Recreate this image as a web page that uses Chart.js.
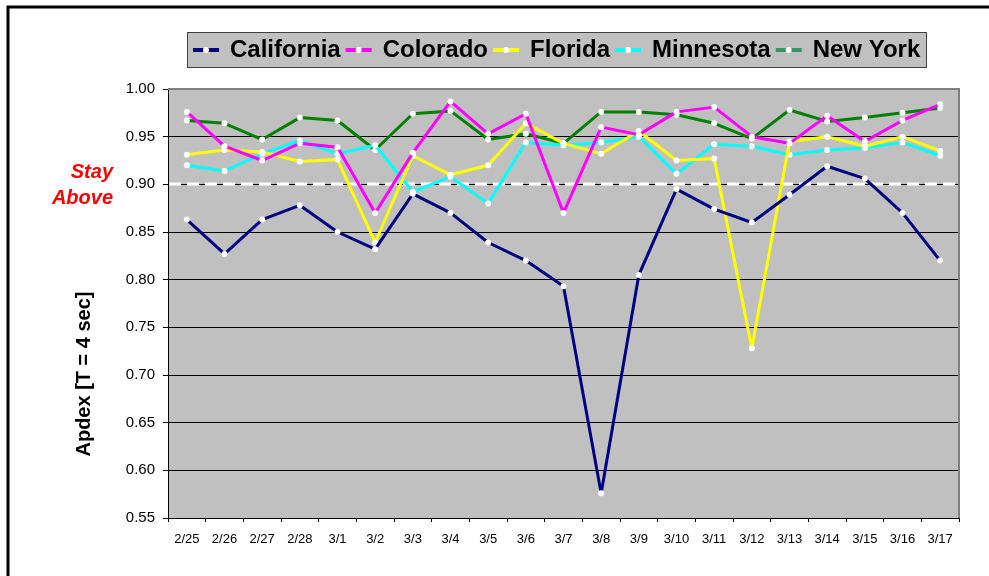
<!DOCTYPE html>
<html>
<head>
<meta charset="utf-8">
<script src="https://cdn.jsdelivr.net/npm/chart.js@4/dist/chart.umd.min.js"></script>
<style>
  html, body { margin: 0; padding: 0; background: #fff; }
  canvas { display: block; }
</style>
</head>
<body>
<canvas id="apdexChart" width="989" height="576"></canvas>
<script>
// Daily Apdex per state
const dates = ['2/25', '2/26', '2/27', '2/28', '3/1', '3/2', '3/3', '3/4', '3/5', '3/6', '3/7',
    '3/8', '3/9', '3/10', '3/11', '3/12', '3/13', '3/14', '3/15', '3/16', '3/17'];
const california = [0.863, 0.827, 0.863, 0.878, 0.850, 0.832, 0.890, 0.870, 0.839, 0.820, 0.793,
    0.576, 0.805, 0.895, 0.874, 0.860, 0.889, 0.919, 0.906, 0.870, 0.820];
const colorado = [0.976, 0.940, 0.925, 0.943, 0.939, 0.870, 0.933, 0.987, 0.953, 0.974, 0.870,
    0.960, 0.952, 0.976, 0.981, 0.950, 0.943, 0.972, 0.945, 0.967, 0.984];
const florida = [0.931, 0.936, 0.934, 0.924, 0.926, 0.839, 0.930, 0.910, 0.920, 0.964, 0.943,
    0.932, 0.956, 0.925, 0.927, 0.728, 0.945, 0.950, 0.940, 0.950, 0.935];
const minnesota = [0.920, 0.914, 0.932, 0.946, 0.932, 0.941, 0.892, 0.908, 0.880, 0.944, 0.941,
    0.944, 0.950, 0.911, 0.942, 0.940, 0.931, 0.936, 0.938, 0.944, 0.930];
const newYork = [0.967, 0.964, 0.947, 0.970, 0.967, 0.936, 0.974, 0.977, 0.947, 0.953, 0.943,
    0.976, 0.976, 0.973, 0.964, 0.948, 0.978, 0.966, 0.970, 0.975, 0.980];
const stateNames = ['California', 'Colorado', 'Florida', 'Minnesota', 'New York'];
const lineColors = ['#000080', '#ff00ff', '#ffff00', '#00ffff', '#008000'];
const legendColors = ['#000080', '#ff00ff', '#ffff00', '#00ffff', '#339966'];
const yTicks = [0.55, 0.60, 0.65, 0.70, 0.75, 0.80, 0.85, 0.90, 0.95, 1.00];
const stayAbove = 0.90;

const FONT = "'Liberation Sans', Arial, sans-serif";

// plot background, frame, target line and the text around the chart
const decorations = {
    id: 'decorations',
    beforeDraw(chart) {
        const { ctx, chartArea: a } = chart;
        ctx.save();
        ctx.fillStyle = '#c0c0c0';
        ctx.fillRect(a.left, a.top, a.right - a.left, a.bottom - a.top);
        ctx.restore();
    },
    beforeDatasetsDraw(chart) {
        const { ctx, chartArea: a, scales } = chart;
        ctx.save();
        // gray frame on top and right
        ctx.strokeStyle = '#808080';
        ctx.lineWidth = 2;
        ctx.beginPath();
        ctx.moveTo(a.left, a.top);
        ctx.lineTo(a.right, a.top);
        ctx.lineTo(a.right, a.bottom);
        ctx.stroke();
        // dashed "stay above" line
        const y = Math.round(scales.y.getPixelForValue(stayAbove));
        ctx.strokeStyle = '#ffffff';
        ctx.lineWidth = 3;
        ctx.setLineDash([12, 6]);
        ctx.beginPath();
        ctx.moveTo(a.left + 1, y);
        ctx.lineTo(a.right, y);
        ctx.stroke();
        ctx.restore();
    },
    afterDraw(chart) {
        const { ctx, scales } = chart;
        ctx.save();
        // outer frame (left and top only are visible)
        ctx.strokeStyle = '#000';
        ctx.lineWidth = 3;
        ctx.strokeRect(8, 7, 1100, 700);

        // "Stay Above" label next to the threshold
        const ty = scales.y.getPixelForValue(stayAbove);
        ctx.fillStyle = '#ff0000';
        ctx.font = 'italic bold 20px ' + FONT;
        ctx.textAlign = 'right';
        ctx.textBaseline = 'middle';
        ctx.fillText('Stay', 113, ty - 12);
        ctx.fillText('Above', 113, ty + 14);

        // y axis title
        ctx.fillStyle = '#000';
        ctx.font = 'bold 20px ' + FONT;
        ctx.translate(84, 374);
        ctx.rotate(-Math.PI / 2);
        ctx.textAlign = 'center';
        ctx.fillText('Apdex [T = 4 sec]', 0, 0);
        ctx.restore();

        // legend box
        ctx.save();
        ctx.fillStyle = '#c0c0c0';
        ctx.fillRect(187, 32, 739, 35);
        ctx.strokeStyle = '#404040';
        ctx.lineWidth = 1;
        ctx.strokeRect(187.5, 32.5, 739, 35);
        ctx.font = 'bold 24px ' + FONT;
        ctx.textBaseline = 'middle';
        ctx.textAlign = 'left';
        let x = 193;
        const ly = 50;
        chart.data.datasets.forEach((ds, i) => {
            ctx.strokeStyle = legendColors[i];
            ctx.lineWidth = 4;
            ctx.beginPath();
            ctx.moveTo(x, ly);
            ctx.lineTo(x + 26, ly);
            ctx.stroke();
            ctx.fillStyle = '#fff';
            ctx.beginPath();
            ctx.arc(x + 13, ly, 3, 0, Math.PI * 2);
            ctx.fill();
            x += 37;
            ctx.fillStyle = '#000';
            ctx.fillText(ds.label, x, ly);
            x += ctx.measureText(ds.label).width + 5;
        });
        ctx.restore();
    }
};

const series = [california, colorado, florida, minnesota, newYork];

new Chart(document.getElementById('apdexChart'), {
    type: 'line',
    data: {
        labels: dates,
        datasets: series.map((values, i) => ({
            label: stateNames[i],
            data: values,
            borderColor: lineColors[i],
            borderWidth: 3,
            borderJoinStyle: 'round',
            pointRadius: 3,
            pointBorderWidth: 0,
            pointBackgroundColor: '#ffffff',
            tension: 0
        }))
    },
    options: {
        responsive: false,
        animation: false,
        devicePixelRatio: 1,
        layout: { padding: { left: 0, top: 89, right: 30, bottom: 0 } },
        plugins: {
            legend: { display: false },
            tooltip: { enabled: false }
        },
        scales: {
            x: {
                offset: true,
                grid: { offset: true, drawOnChartArea: false, color: '#000', tickLength: 4 },
                border: { color: '#000', width: 1 },
                ticks: {
                    color: '#000',
                    font: { family: FONT, size: 13 },
                    padding: 10,
                    maxRotation: 0,
                    autoSkip: false
                },
                afterFit(s) { s.height = 58; }
            },
            y: {
                min: yTicks[0],
                max: yTicks[yTicks.length - 1],
                afterBuildTicks(s) { s.ticks = yTicks.map(v => ({ value: v })); },
                grid: {
                    color: c => (c.tick && c.tick.value === 1 ? '#808080' : '#000'),
                    tickColor: '#000',
                    tickLength: 5
                },
                border: { color: '#000', width: 1 },
                ticks: {
                    color: '#000',
                    font: { family: FONT, size: 15 },
                    padding: 8,
                    callback: v => Number(v).toFixed(2)
                },
                afterFit(s) { s.width = 168; }
            }
        }
    },
    plugins: [decorations]
});
</script>
</body>
</html>
